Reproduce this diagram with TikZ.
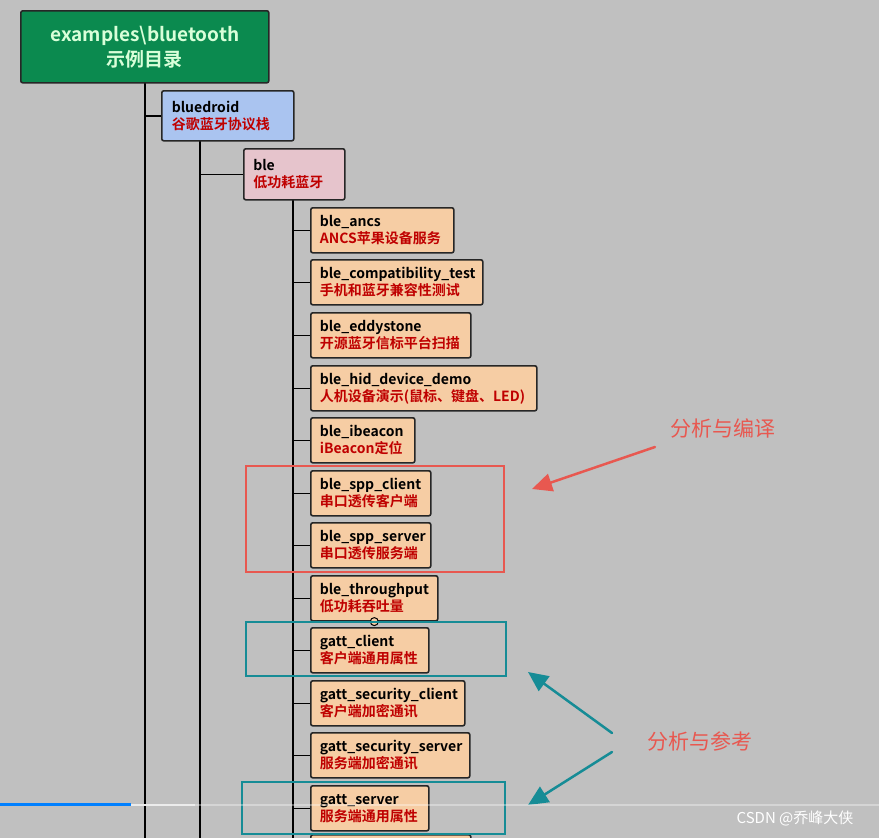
\documentclass[tikz,border=0pt]{standalone}
\usepackage{fontspec}
\usetikzlibrary{calc,arrows.meta}
\setmainfont{Noto Sans CJK SC}[BoldFont={* Bold}]
\begin{document}
\begin{tikzpicture}[x=1pt,y=-1pt,
 box/.style={draw=black!85,line width=1.6pt,rounded corners=2pt,anchor=north west,inner sep=0pt,font=\bfseries\fontsize{14}{17}\selectfont,align=left},
 trunk/.style={line width=2pt,black},
 bigarrow/.style={line width=2.5pt,line cap=round,-{Triangle[length=20pt,width=18pt]}}]
\definecolor{bg}{RGB}{192,192,192}
\definecolor{leafc}{RGB}{246,205,164}
\definecolor{teal}{RGB}{22,140,150}
\definecolor{hl}{RGB}{232,88,80}
\fill[bg] (0,0) rectangle (879,838);
\useasboundingbox (0,0) rectangle (879,838);
% trunks
\coordinate (t1a) at (145,82); \coordinate (t1b) at (145,838);
\coordinate (t2a) at (200,140); \coordinate (t2b) at (200,838);
\coordinate (t3a) at (293,199); \coordinate (t3b) at (293,838);
\draw[trunk] (t1a)--(t1b); \draw[trunk] (t2a)--(t2b); \draw[trunk] (t3a)--(t3b);
\node[box,fill={rgb,255:red,11;green,138;blue,79},minimum width=248,minimum height=72,text=white!85!green,align=center,font=\bfseries\fontsize{19}{25}\selectfont] (root) at (20,10) {\makebox[248pt]{examples\textbackslash bluetooth}\\示例目录};
\node[box,fill={rgb,255:red,170;green,196;blue,240},minimum width=132,minimum height=50] (bd) at (161,90) {\hspace*{8pt}\parbox{120pt}{bluedroid\\\textcolor{red!75!black}{谷歌蓝牙协议栈}}};
\node[box,fill={rgb,255:red,230;green,196;blue,204},minimum width=101,minimum height=51] (ble) at (243,148) {\hspace*{8pt}\parbox{90pt}{ble\\\textcolor{red!75!black}{低功耗蓝牙}}};
\draw[trunk,line width=1.5pt] (t1a|-bd.west)--(bd.west);
\draw[trunk,line width=1.5pt] (t2a|-ble.west)--(ble.west);
\foreach \n/\y/\w/\a/\b in {
 a/207/143/ble\_ancs/ANCS苹果设备服务,
 b/259/172/ble\_compatibility\_test/手机和蓝牙兼容性测试,
 c/312/160/ble\_eddystone/开源蓝牙信标平台扫描,
 d/365/226/ble\_hid\_device\_demo/人机设备演示(鼠标、键盘、LED),
 e/417/104/ble\_ibeacon/iBeacon定位,
 f/470/120/ble\_spp\_client/串口透传客户端,
 g/522/120/ble\_spp\_server/串口透传服务端,
 h/575/127/ble\_throughput/低功耗吞吐量,
 i/627/118/gatt\_client/客户端通用属性,
 j/680/154/gatt\_security\_client/客户端加密通讯,
 k/732/159/gatt\_security\_server/服务端加密通讯,
 l/785/118/gatt\_server/服务端通用属性}{
 \node[box,fill=leafc,minimum width=\w,minimum height=45] (\n) at (310,\y) {\hspace*{8pt}\parbox{\dimexpr\w pt-10pt}{\a\\\textcolor{red!75!black}{\b}}};
 \draw[trunk,line width=1.5pt] (t3a|-\n.west)--(\n.west);
}
\node[box,fill=leafc,minimum width=160,minimum height=20] (m) at (310,834) {};
\draw[black,line width=1pt,fill=leafc] (h.south) circle (4);
% highlight boxes
\draw[hl,line width=2pt] (246,466) rectangle (504,572);
\draw[teal,line width=2pt] (246,622) rectangle (506,676);
\draw[teal,line width=2pt] (242,782) rectangle (505,834);
\node[text=hl,font=\fontsize{21}{24}\selectfont] (t1) at (723,428) {分析与编译};
\node[text=hl,font=\fontsize{21}{24}\selectfont] (t2) at (700,741) {分析与参考};
\coordinate (r1) at (655,447); \coordinate (r2) at (532,489);
\draw[hl,bigarrow] (r1) -- (r2);
\coordinate (q1) at (612,733); \coordinate (q2) at (528,672);
\coordinate (q3) at (612,752); \coordinate (q4) at (528,805);
\draw[teal,bigarrow] (q1) -- (q2);
\draw[teal,bigarrow] (q3) -- (q4);
% progress bar
\fill[white,opacity=0.35] (0,804) rectangle (879,806);
\fill[blue!50!cyan] (0,803) rectangle (131,806);
\fill[white!85!gray] (131,804) rectangle (195,806);
\node[text=white,font=\fontsize{15}{17}\selectfont] (wm) at (795,818) {CSDN @乔峰大侠};
\end{tikzpicture}
\end{document}
